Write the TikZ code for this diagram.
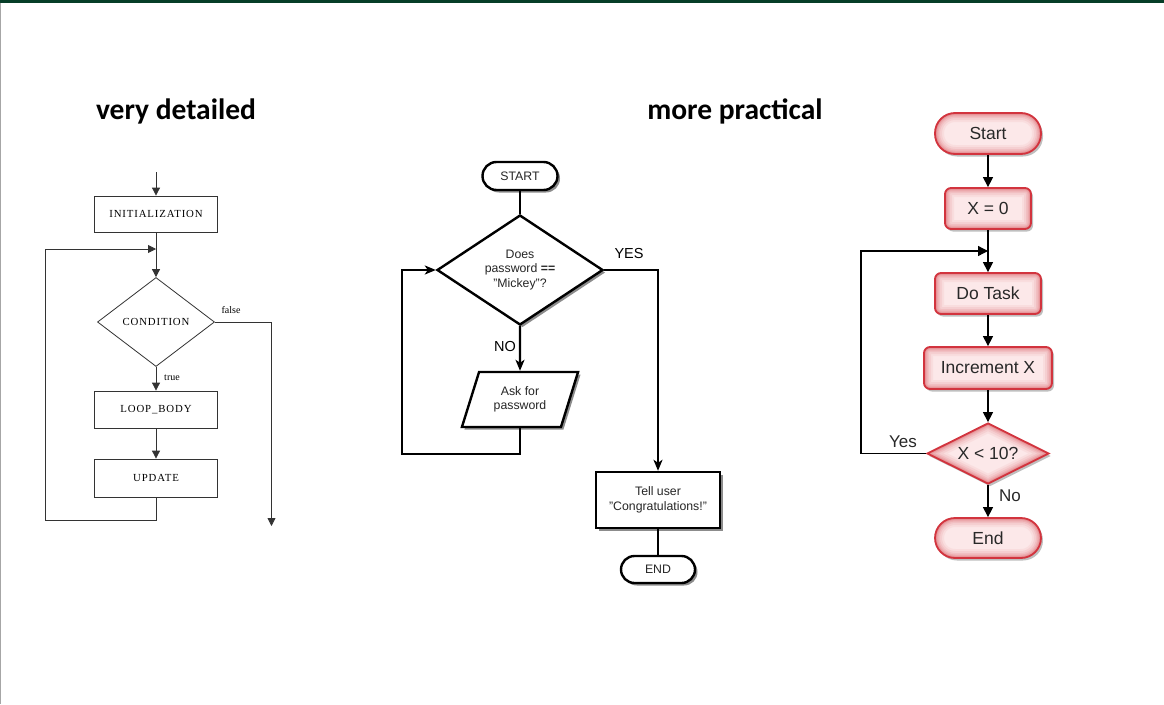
\documentclass[tikz,border=0pt]{standalone}
\usepackage{fontspec}
\setmainfont{Liberation Sans}
\newfontfamily\titlefont{Carlito}
\newfontfamily\serifchart[LetterSpace=8]{Liberation Serif}
\newfontfamily\seriflabel{Liberation Serif}
\usetikzlibrary{arrows.meta,shapes.geometric,shadows}
\definecolor{topgreen}{RGB}{6,62,40}
\definecolor{rbord}{RGB}{210,52,62}
\definecolor{rfill}{RGB}{252,232,233}
\definecolor{rtext}{RGB}{40,40,40}
\begin{document}
\begin{tikzpicture}[x=1pt,y=-1pt,
  titletext/.style={font=\titlefont\bfseries\fontsize{29.5}{31}\selectfont, inner sep=0},
  % left chart
  lline/.style={draw=black!80, line width=0.8pt},
  larrow/.style={lline, -{Triangle[length=8pt,width=8pt]}},
  lbox/.style={lline, minimum width=123pt, inner sep=0, font=\serifchart\fontsize{10.8}{12}\selectfont},
  ldia/.style={lline, shape=diamond, aspect=1.31, minimum width=117pt, minimum height=89pt, inner sep=0, font=\serifchart\fontsize{10.8}{12}\selectfont},
  llabel/.style={font=\seriflabel\fontsize{10}{12}\selectfont, inner sep=0},
  % middle chart
  mline/.style={draw=black, line width=2.4pt},
  marrow/.style={mline, -{Stealth[length=11pt,width=9pt,inset=3pt]}},
  mshadow/.style={drop shadow={shadow xshift=2.5pt, shadow yshift=-2.5pt, fill=black!45, opacity=1}},
  mnode/.style={mline, fill=white, mshadow, inner sep=0, align=center, text=black!85, font=\fontsize{12.3}{14.5}\selectfont},
  mlabel/.style={inner sep=0, font=\fontsize{14.5}{16}\selectfont},
  % right chart
  rline/.style={draw=black, line width=1.3pt},
  rarrow/.style={rline, -{Triangle[length=10pt,width=10pt]}},
  rshadow/.style={drop shadow={shadow xshift=2pt, shadow yshift=-2.5pt, fill=black, opacity=0.25}},
  rglowrect/.style={path picture={
     \foreach \w/\o in {18/0.06,14/0.08,10/0.1,7/0.12,4.5/0.15,2.5/0.2}{
       \draw[rbord, line width=\w pt, opacity=\o, rounded corners=#1]
         (path picture bounding box.south west) rectangle (path picture bounding box.north east);}
  }},
  rglowdia/.style={path picture={
     \foreach \w/\o in {18/0.06,14/0.08,10/0.1,7/0.12,4.5/0.15,2.5/0.2}{
       \draw[rbord, line width=\w pt, opacity=\o]
         (path picture bounding box.west) -- (path picture bounding box.north) --
         (path picture bounding box.east) -- (path picture bounding box.south) -- cycle;}
  }},
  rbox/.style={draw=rbord, line width=1.8pt, fill=rfill, rshadow, rounded corners=#1, rglowrect=#1,
     inner sep=0, text=rtext, font=\fontsize{17.5}{20}\selectfont},
  rlabel/.style={inner sep=0, text=rtext, font=\fontsize{17}{20}\selectfont},
]
\useasboundingbox (0,0) rectangle (1164,704);
\fill[white] (0,0) rectangle (1164,704);
\fill[topgreen] (0,0) rectangle (1164,2.5);
\draw[black!35, line width=1pt] (0.5,2.5) -- (0.5,704);

% titles
\node[titletext] (t1) at (176,111) {very detailed};
\node[titletext] (t2) at (735,111) {more practical};

% ---------------- left chart ----------------
\coordinate (lstart) at (156,172);
\node[lbox, minimum height=36pt] (init) at (156,214) {INITIALIZATION};
\coordinate (lmerge) at (156,249);
\node[ldia] (cond) at (156,322) {CONDITION};
\node[lbox, minimum height=37pt] (body) at (156,409.5) {LOOP\_BODY};
\node[lbox, minimum height=38pt] (upd) at (156,478) {UPDATE};
\coordinate (lbl) at (45.5,520);
\coordinate (lfalse) at (271.5,526);

\draw[larrow] (lstart) -- (init.north);
\draw[larrow] (init.south) -- (cond.north);
\draw[larrow] (upd.south) |- (lbl) |- (lmerge);
\draw[larrow] (cond.south) -- (body.north);
\draw[larrow] (body.south) -- (upd.north);
\draw[larrow] (cond.east) -| (lfalse);
\node[llabel] (lf) at (231,310) {false};
\node[llabel] (lt) at (172,378) {true};

% ---------------- middle chart ----------------
\node[mnode, minimum width=75pt, minimum height=28pt, rounded corners=14pt] (mstart) at (520,176) {START};
\node[mnode, shape=diamond, aspect=1.5, minimum width=166pt, minimum height=110pt] (mdia) at (520,270)
  {Does\\password \textbf{==}\\"Mickey"?};
\node[mnode, shape=trapezium, trapezium left angle=67, trapezium right angle=113,
  trapezium stretches=true, minimum width=117pt, minimum height=55pt] (ask) at (520,399.5) {Ask for\\password};
\node[mnode, minimum width=124pt, minimum height=56pt] (tell) at (658,500) {Tell user\\"Congratulations!"};
\node[mnode, minimum width=74pt, minimum height=27pt, rounded corners=13.5pt] (mend) at (658,569.5) {END};
\coordinate (mlb) at (402,454);

\draw[mline] (mstart.south) -- (mdia.north);
\draw[marrow] (mdia.south) -- (ask.north);
\draw[marrow] (ask.south) |- (mlb) |- (mdia.west);
\draw[marrow] (mdia.east) -| (tell.north);
\draw[mline] (tell.south) -- (mend.north);
\node[mlabel] (myes) at (629,254) {YES};
\node[mlabel] (mno) at (505,347) {NO};

% ---------------- right chart ----------------
\node[rbox=20pt, minimum width=106pt, minimum height=41pt] (rstart) at (988,133.5) {Start};
\node[rbox=6pt, minimum width=86pt, minimum height=41pt] (x0) at (988,208.5) {X = 0};
\node[rbox=6pt, minimum width=106pt, minimum height=41pt] (task) at (988,293.5) {Do Task};
\node[rbox=6pt, minimum width=128pt, minimum height=42pt] (inc) at (988,368) {Increment X};
\node[draw=rbord, line width=1.8pt, fill=rfill, rshadow, rglowdia, shape=diamond, aspect=2,
  minimum width=122pt, minimum height=61pt, inner sep=0, text=rtext, font=\fontsize{17.5}{20}\selectfont]
  (rdia) at (988,453.5) {X < 10?};
\node[rbox=20pt, minimum width=106pt, minimum height=40pt] (rend) at (988,538) {End};
\coordinate (rtl) at (861,251);
\coordinate (rmerge) at (988,251);

\draw[rarrow] (rstart.south) -- (x0.north);
\draw[rarrow] (x0.south) -- (task.north);
\draw[rarrow] (task.south) -- (inc.north);
\draw[rarrow] (inc.south) -- (rdia.north);
\draw[rarrow] (rdia.south) -- (rend.north);
\draw[rarrow] (rdia.west) -| (rtl) -- (rmerge);
\node[rlabel] (ryes) at (903,442) {Yes};
\node[rlabel] (rno) at (1010,496) {No};
\end{tikzpicture}
\end{document}
